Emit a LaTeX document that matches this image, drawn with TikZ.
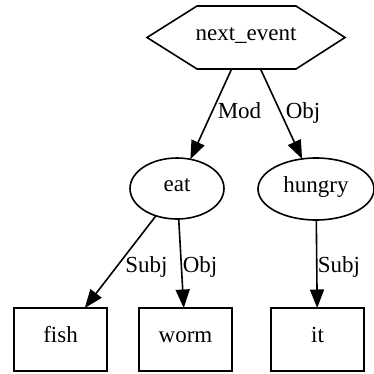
\documentclass[tikz,border=0pt]{standalone}
\usepackage{fontspec}
\setmainfont{Liberation Serif}
\newfontfamily\tms{Liberation Serif}
\usetikzlibrary{shapes.geometric,arrows.meta}
\begin{document}
\begin{tikzpicture}[x=1pt,y=-1pt,
  every node/.style={font=\tms\fontsize{23}{27}\selectfont, text height=0.75em, text depth=0.15em, inner sep=0pt},
  line width=1.6pt,
  hexbox/.style={rectangle, minimum width=198pt, minimum height=63pt, outer sep=0pt},
  oval/.style={ellipse, draw, minimum height=61pt, outer sep=0pt},
  leaf/.style={rectangle, draw, minimum width=93pt, minimum height=63pt, outer sep=0pt},
  link/.style={-{Triangle[length=18.5pt,width=14pt]}},
  lbl/.style={anchor=base, text height=, text depth=}]
\useasboundingbox (0,0) rectangle (374,373);

% root node: a stretched hexagon around a rectangular node
\node[hexbox] (ne) at (246,37.5) {next\_event};
\draw (ne.west) -- ([xshift=50pt]ne.north west) -- ([xshift=-49pt]ne.north east)
  -- (ne.east) -- ([xshift=-49pt]ne.south east) -- ([xshift=50pt]ne.south west) -- cycle;

% middle level
\node[oval, minimum width=94pt] (eat) at (177,188.5) {eat};
\node[oval, minimum width=116pt, minimum height=62pt] (hungry) at (316,189) {hungry};

% leaves
\node[leaf] (fish) at (60.5,339.5) {fish};
\node[leaf] (worm) at (185.5,339.5) {worm};
\node[leaf] (it) at (317.5,339.5) {it};

% connectors
\draw[link] (ne) -- (eat);
\draw[link] (ne) -- (hungry);
\draw[link] (eat) -- (fish);
\draw[link] (eat) -- (worm);
\draw[link] (hungry) -- (it);

% edge labels
\node[lbl] (lmod) at (239.5,118) {Mod};
\node[lbl] (lobj1) at (303,118) {Obj};
\node[lbl] (lsubj1) at (146.5,272) {Subj};
\node[lbl] (lobj2) at (200,272) {Obj};
\node[lbl] (lsubj2) at (339,272) {Subj};
\end{tikzpicture}
\end{document}
